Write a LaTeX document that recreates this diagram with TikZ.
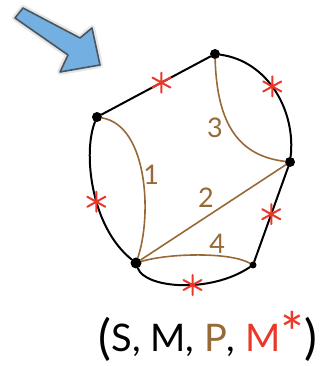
\documentclass[tikz,border=0pt]{standalone}
\usepackage{fontspec}
\setmainfont{Lato}
\definecolor{pathbrown}{RGB}{150,105,55}
\definecolor{starred}{RGB}{235,55,40}
\definecolor{arrowblue}{RGB}{115,175,225}
\definecolor{arrowedge}{RGB}{75,85,95}
\newcommand{\bigparen}[1]{{\fontsize{48}{52}\selectfont\raisebox{-3pt}{#1}}}

\begin{document}
\begin{tikzpicture}[x=1pt, y=1pt,
    vertex/.style={circle, fill=black, inner sep=0pt, minimum size=10pt},
    edge/.style={draw=black, line width=2pt, line cap=round},
    route/.style={draw=pathbrown, line width=1.6pt, line cap=round},
    digit/.style={text=pathbrown, font=\fontsize{27}{30}\selectfont, inner sep=1pt},
    redstar/.pic={\draw[starred, line width=2pt, line cap=round] (0,-10) -- (0,10) (-9,-5) -- (9,5) (-9,5) -- (9,-5);}
  ]
  \useasboundingbox (0,0) rectangle (322,366);
  % pointer arrow
  \draw[line width=6pt, black!10, line join=round] (23,358) -- (80,328) -- (92,338) -- (100,301) -- (60,294) -- (68,311) -- (15,348) -- cycle;
  \draw[fill=arrowblue, draw=arrowedge, line width=1.6pt, line join=round] (23,358) -- (80,328) -- (92,338) -- (100,301) -- (60,294) -- (68,311) -- (15,348) -- cycle;
  % vertices
  \node[vertex] (top) at (215,312) {};
  \node[vertex] (upleft) at (97,249) {};
  \node[vertex] (right) at (290,204) {};
  \node[vertex, minimum size=11pt] (lowleft) at (136,103) {};
  \node[vertex, minimum size=7pt] (lowright) at (253,101) {};
  % brown paths
  \draw[route] (upleft) .. controls (148,240) and (152,150) .. (lowleft) node[digit, pos=0.5, right=-1pt] {1};
  \draw[route] (lowleft) -- node[digit, pos=0.45, above=8pt] {2} (right);
  \draw[route] (top) .. controls (217,240) and (240,210) .. (right) node[digit, pos=0.45, left=6pt] {3};
  \draw[route] (lowleft) .. controls (170,113) and (230,114) .. (lowright) node[digit, pos=0.65, above=0pt] {4};
  % black edges
  \draw[edge] (upleft) -- coordinate[pos=0.55] (s1) (top);
  \draw[edge] (top) .. controls (268,305) and (296,255) .. (right) coordinate[pos=0.46] (s2);
  \draw[edge] (upleft) .. controls (83,215) and (90,140) .. (lowleft) coordinate[pos=0.58] (s3);
  \draw[edge] (right) -- coordinate[pos=0.5] (s4) (lowright);
  \draw[edge] (lowleft) .. controls (145,78) and (210,72) .. (lowright) coordinate[pos=0.58] (s5);
  % stars
  \pic at (s1) {redstar};
  \pic at (s2) {redstar};
  \pic at (s3) {redstar};
  \pic at (s4) {redstar};
  \pic at (s5) {redstar};
  % tuple
  \node[font=\fontsize{38}{42}\selectfont, inner sep=0pt] (tuple) at (208,30) {\bigparen{(}S, M, {\color{pathbrown}P}, {\color{starred}M{\fontsize{56}{60}\selectfont\raisebox{-2pt}{*}}}\bigparen{)}};
\end{tikzpicture}
\end{document}
